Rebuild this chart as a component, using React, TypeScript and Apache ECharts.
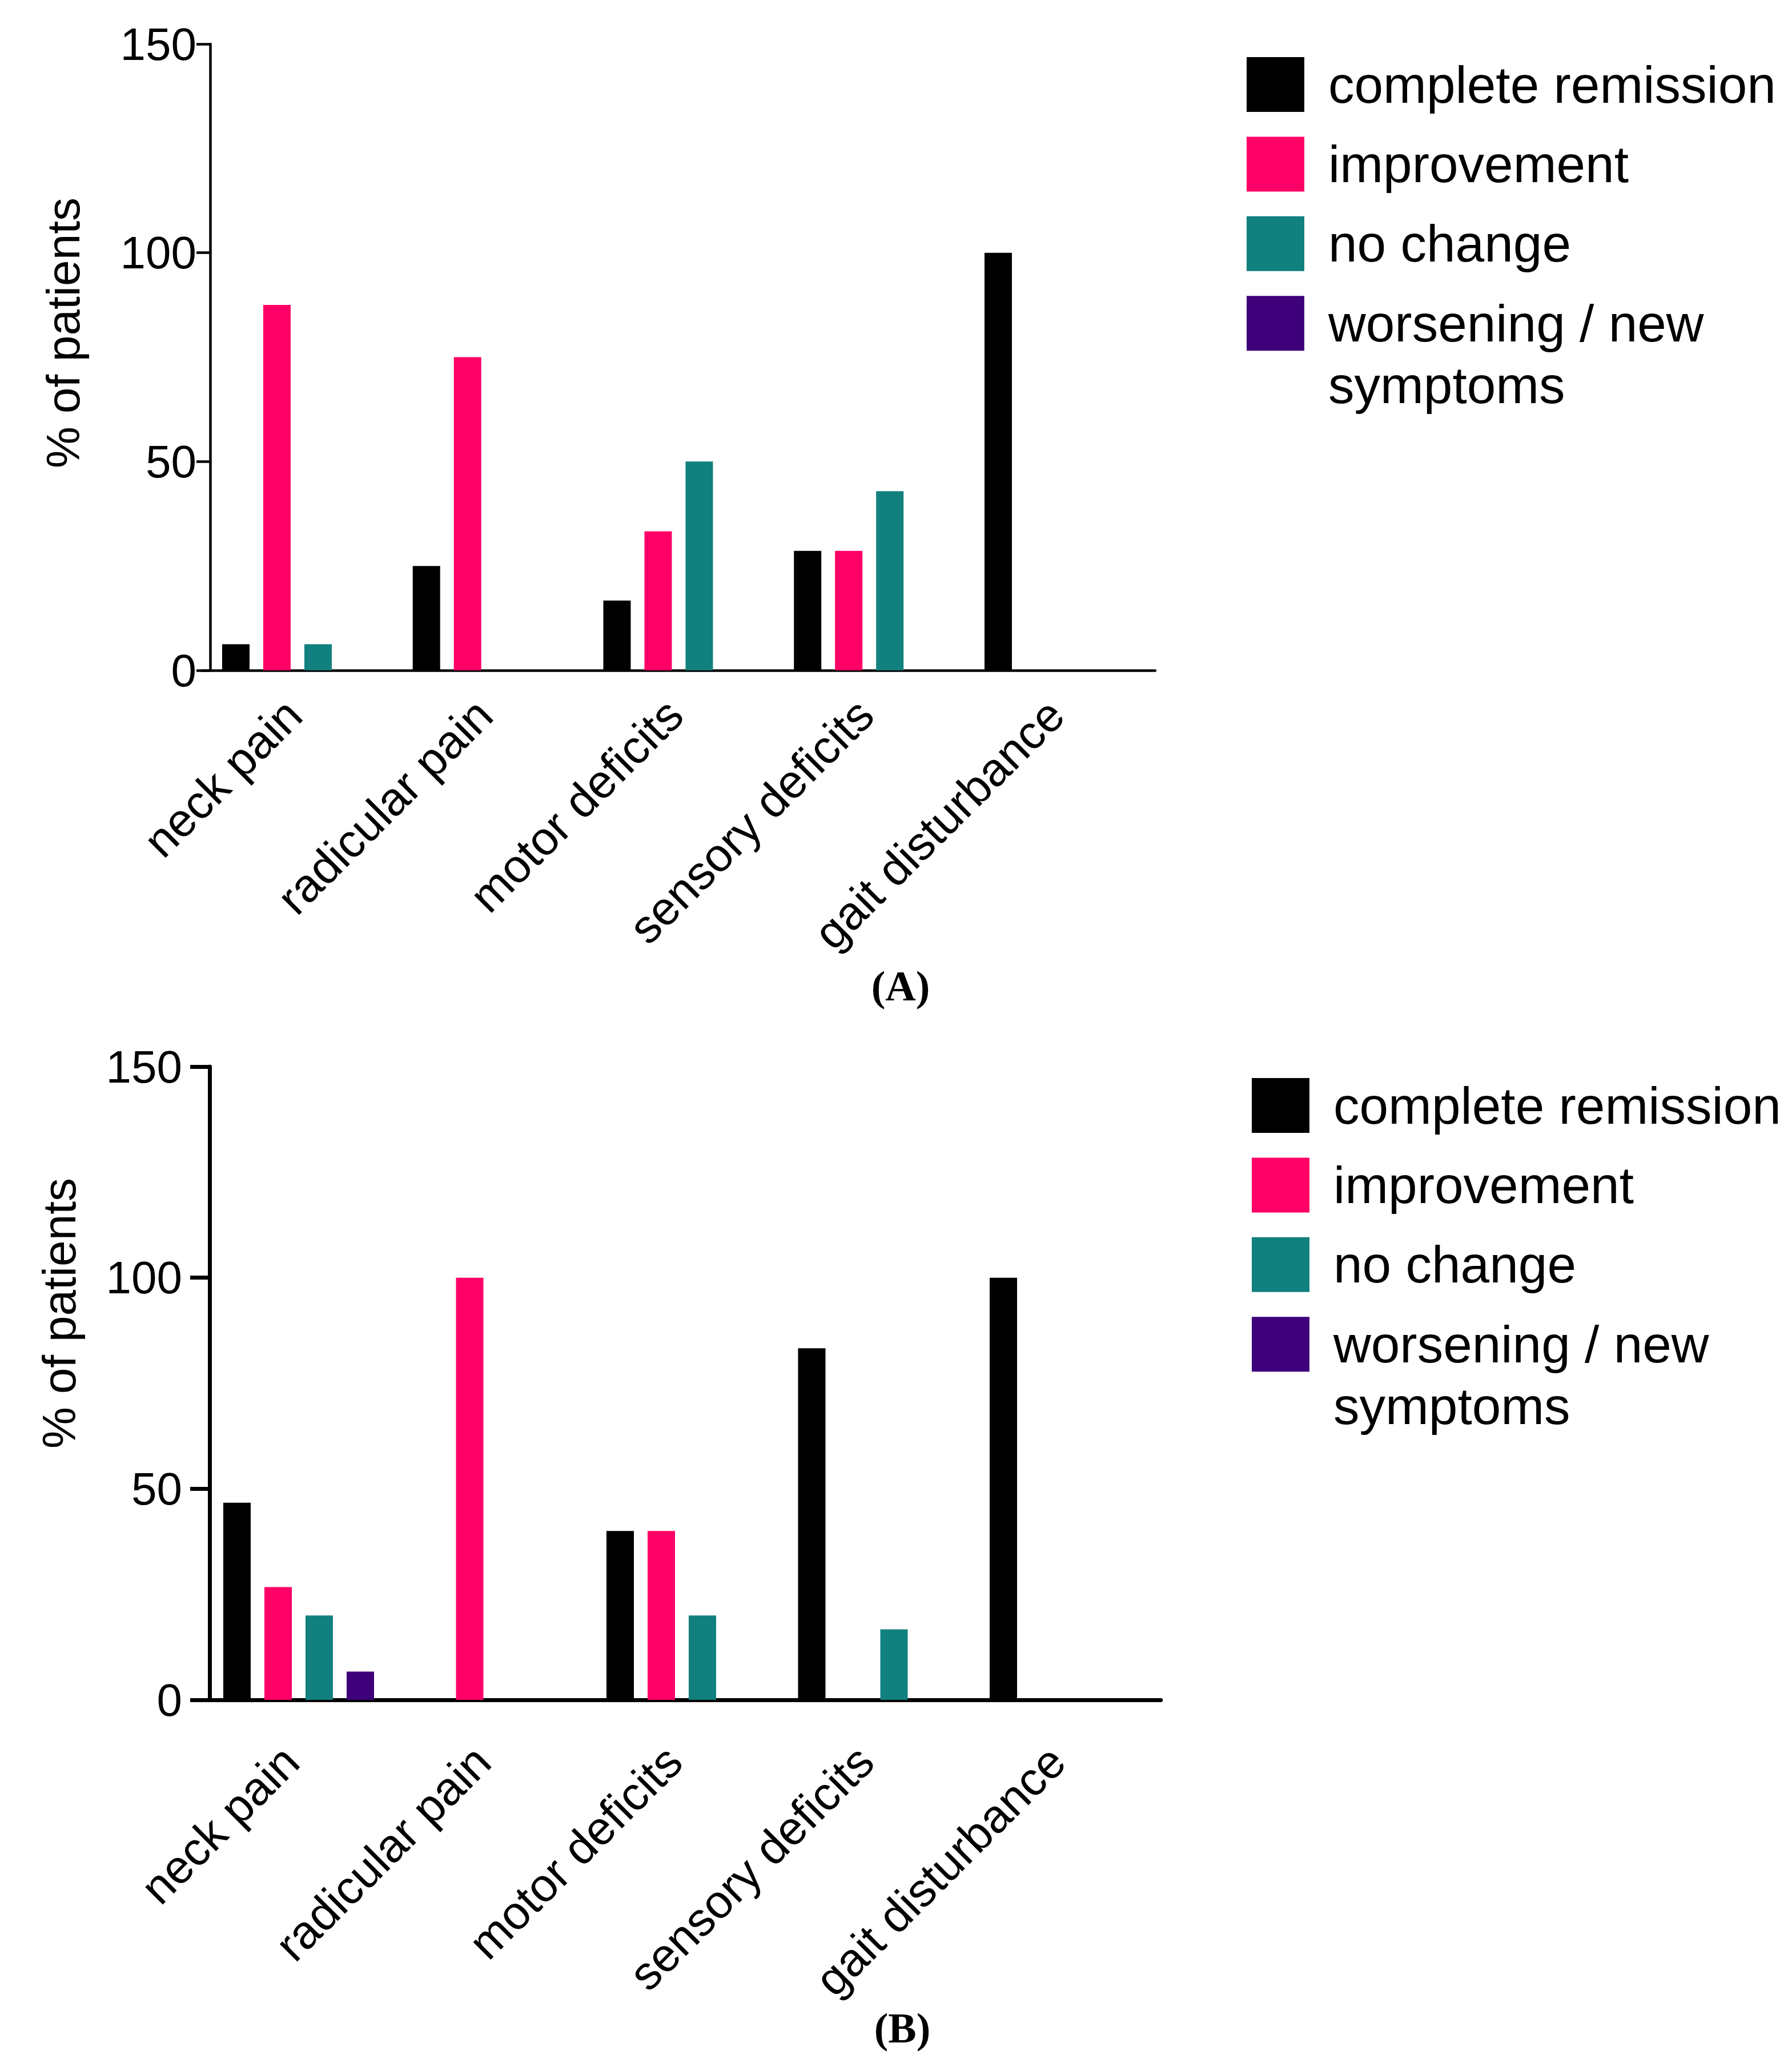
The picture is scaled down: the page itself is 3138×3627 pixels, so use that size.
import { useEffect, useRef } from 'react';
import * as echarts from 'echarts';

const CATEGORIES = ['neck pain', 'radicular pain', 'motor deficits', 'sensory deficits', 'gait disturbance'];
const OUTCOMES = ['complete remission', 'improvement', 'no change', 'worsening / new symptoms'];
const OUTCOME_LABELS = ['complete remission', 'improvement', 'no change', 'worsening / new\nsymptoms'];
const OUTCOME_COLORS = ['#000000', '#ff0066', '#11807e', '#3f007b'];
const Y_TICKS = [0, 50, 100, 150];

// panel (A)
const COMPLETE_A = [6.25, 25, 16.7, 28.6, 100];
const IMPROVEMENT_A = [87.5, 75, 33.3, 28.6, 0];
const NO_CHANGE_A = [6.25, 0, 50, 42.9, 0];
const WORSENING_A = [0, 0, 0, 0, 0];

// panel (B)
const COMPLETE_B = [46.7, 0, 40, 83.3, 100];
const IMPROVEMENT_B = [26.7, 100, 40, 0, 0];
const NO_CHANGE_B = [20, 0, 20, 16.7, 0];
const WORSENING_B = [6.7, 0, 0, 0, 0];

const FONT = "'Liberation Sans', Arial, Helvetica, sans-serif";
const LEGEND_FONT_SIZE = 91;
const LEGEND_LINE = 108;
const LEGEND_PITCH = 139.4;
const ICON_W = 101;
const ICON_H = 96;

const PANELS = [
  {
    tag: '(A)',
    values: [COMPLETE_A, IMPROVEMENT_A, NO_CHANGE_A, WORSENING_A],
    grid: { left: 354.1, top: 77, width: 1668.75, height: 1097 },
    axisOffset: -13.9,
    lineWidth: 4.5,
    yTick: 24,
    xTick: 28,
    yLabelMargin: 24,
    xLabelMargin: 57,
    xLabelPad: 10,
    nameGap: 217,
    nameShift: 85,
    legend: { left: 2183, top: 100 },
    tagPos: [1577, 1727],
  },
  {
    tag: '(B)',
    values: [COMPLETE_B, IMPROVEMENT_B, NO_CHANGE_B, WORSENING_B],
    grid: { left: 355.25, top: 1868, width: 1677.5, height: 1109 },
    axisOffset: -11.75,
    lineWidth: 7,
    yTick: 34,
    xTick: 33,
    yLabelMargin: 48,
    xLabelMargin: 80,
    xLabelPad: 20,
    nameGap: 223,
    nameShift: 245,
    legend: { left: 2192, top: 1888 },
    tagPos: [1580, 3552],
  },
];

export default function App() {
  const chartRef = useRef<HTMLDivElement>(null);

  useEffect(() => {
    document.body.style.margin = '0';
    if (!chartRef.current) return;
    const chart = echarts.init(chartRef.current, undefined, { renderer: 'svg' });

    const legendCommon = {
      orient: 'vertical' as const,
      padding: 0,
      itemWidth: ICON_W,
      itemHeight: ICON_H,
      itemGap: LEGEND_PITCH - LEGEND_LINE,
      icon: 'rect',
      selectedMode: false,
      textStyle: {
        color: '#000',
        fontSize: LEGEND_FONT_SIZE,
        lineHeight: LEGEND_LINE,
        fontFamily: FONT,
        padding: [0, 0, 0, 37],
      },
    };
    const label = (name: string) => OUTCOME_LABELS[OUTCOMES.indexOf(name)];

    const option: echarts.EChartsOption = {
      animation: false,
      backgroundColor: '#ffffff',
      grid: PANELS.map((p) => ({ ...p.grid, containLabel: false })),
      xAxis: PANELS.map((p, i) => ({
        type: 'category',
        gridIndex: i,
        data: CATEGORIES,
        axisLine: { lineStyle: { color: '#000', width: p.lineWidth } },
        axisTick: { alignWithLabel: true, length: p.xTick, lineStyle: { color: '#000', width: p.lineWidth } },
        axisLabel: {
          interval: 0,
          rotate: 45,
          margin: p.xLabelMargin,
          padding: [0, p.xLabelPad, 0, 0],
          color: '#000',
          fontSize: 82,
          fontFamily: FONT,
        },
      })),
      yAxis: PANELS.map((p, i) => ({
        type: 'value',
        gridIndex: i,
        min: Y_TICKS[0],
        max: Y_TICKS[Y_TICKS.length - 1],
        interval: Y_TICKS[1] - Y_TICKS[0],
        offset: p.axisOffset,
        name: '% of patients',
        nameLocation: 'middle',
        nameGap: p.nameGap,
        nameTextStyle: {
          color: '#000',
          fontSize: 82,
          lineHeight: 82,
          fontFamily: FONT,
          padding: [0, 0, 0, p.nameShift],
        },
        axisLine: { show: true, lineStyle: { color: '#000', width: p.lineWidth } },
        axisTick: { show: true, length: p.yTick, lineStyle: { color: '#000', width: p.lineWidth } },
        axisLabel: { margin: p.yLabelMargin, color: '#000', fontSize: 80, fontFamily: FONT },
        splitLine: { show: false },
      })),
      legend: PANELS.flatMap((p) => [
        {
          ...legendCommon,
          left: p.legend.left,
          // single-line boxes reach (LEGEND_LINE - ICON_H) / 2 above the icon
          top: p.legend.top - (LEGEND_LINE - ICON_H) / 2,
          data: OUTCOMES.slice(0, 3),
          formatter: label,
        },
        {
          ...legendCommon,
          left: p.legend.left,
          // a leading empty line puts the first text line level with the icon
          top: p.legend.top + 3 * LEGEND_PITCH - (3 * LEGEND_LINE - ICON_H) / 2,
          data: OUTCOMES.slice(3),
          formatter: (name: string) => '\n' + label(name),
        },
      ]),
      series: PANELS.flatMap((p, i) =>
        OUTCOMES.map((name, k) => ({
          type: 'bar' as const,
          name,
          xAxisIndex: i,
          yAxisIndex: i,
          data: p.values[k],
          barWidth: 48,
          barGap: '50%',
          itemStyle: { color: OUTCOME_COLORS[k] },
        }))
      ),
      graphic: PANELS.map((p) => ({
        type: 'text',
        x: p.tagPos[0],
        y: p.tagPos[1],
        style: {
          text: p.tag,
          fill: '#000',
          font: "bold 74px 'Liberation Serif', 'Times New Roman', serif",
          align: 'center',
          verticalAlign: 'middle',
        },
      })),
    };

    chart.setOption(option);
    return () => chart.dispose();
  }, []);

  return <div ref={chartRef} style={{ width: 3138, height: 3627 }} />;
}
